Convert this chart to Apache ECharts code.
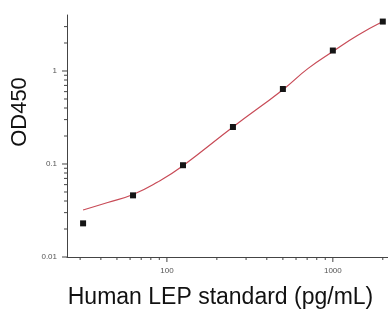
<!DOCTYPE html>
<html>
<head>
<meta charset="utf-8">
<script src="https://cdn.jsdelivr.net/npm/echarts@6/dist/echarts.min.js"></script>
<style>
  html, body { margin: 0; padding: 0; background: #fff; }
  #chart { width: 388px; height: 314px; }
</style>
</head>
<body>
<div id="chart"></div>
<script>
// standard concentrations (pg/mL) and measured OD450
const concentrations = [31.25, 62.5, 125, 250, 500, 1000, 2000]
const od450 = [0.023, 0.046, 0.097, 0.25, 0.64, 1.66, 3.4]

// fitted curve
const fitConc = [31.25, 44, 62.5, 88, 125, 250, 500, 707, 1000, 1414, 2000]
const fitOd = [0.032, 0.0385, 0.047, 0.064, 0.096, 0.25, 0.63, 1.06, 1.62, 2.42, 3.4]

// tick positions
const xMajorTicks = [100, 1000]
const xMinorTicks = [30, 40, 50, 60, 70, 80, 90, 200, 300, 400, 500, 600, 700, 800, 900, 2000]
const yMajorTicks = [0.01, 0.1, 1]
const yMinorTicks = [0.02, 0.03, 0.04, 0.05, 0.06, 0.07, 0.08, 0.09,
  0.2, 0.3, 0.4, 0.5, 0.6, 0.7, 0.8, 0.9, 2, 3]

const X_MIN = 25
const X_MAX = 2150
const Y_MIN = 0.01
const Y_MAX = 4

const chart = echarts.init(document.getElementById('chart'), null, { renderer: 'canvas' })

const isPow10 = v => Math.abs(Math.log10(v) - Math.round(Math.log10(v))) < 1e-6
const fmt = v => isPow10(v) ? String(+Math.pow(10, Math.round(Math.log10(v))).toPrecision(3)) : ''

const pairs = (xs, ys) => xs.map((x, i) => [x, ys[i]])

const tickStyle = { stroke: '#444', lineWidth: 1 }

const xTickData = xMajorTicks.map(v => [v, Y_MIN, 5])
  .concat(xMinorTicks.map(v => [v, Y_MIN, 3]))
const yTickData = yMajorTicks.map(v => [X_MIN, v, 5])
  .concat(yMinorTicks.map(v => [X_MIN, v, 3]))

const option = {
  animation: false,
  grid: { left: 67, right: 0, top: 15, bottom: 55 },
  xAxis: {
    type: 'log',
    logBase: 10,
    min: X_MIN,
    max: X_MAX,
    name: 'Human LEP standard (pg/mL)',
    nameLocation: 'middle',
    nameGap: 29,
    nameTextStyle: {
      fontFamily: 'Liberation Sans',
      fontSize: 23,
      color: '#111',
      padding: [0, 14, 0, 0]
    },
    axisLine: { lineStyle: { color: '#444', width: 1 } },
    axisTick: { show: false },
    splitLine: { show: false },
    axisLabel: {
      showMinLabel: false,
      showMaxLabel: false,
      formatter: fmt,
      fontFamily: 'Liberation Sans',
      fontSize: 8,
      color: '#555',
      margin: 10
    }
  },
  yAxis: {
    type: 'log',
    logBase: 10,
    min: Y_MIN,
    max: Y_MAX,
    name: 'OD450',
    nameLocation: 'middle',
    nameGap: 32,
    nameTextStyle: {
      fontFamily: 'Liberation Sans',
      fontSize: 22,
      color: '#111',
      padding: [0, 0, 0, 48]
    },
    axisLine: { show: true, lineStyle: { color: '#444', width: 1 } },
    axisTick: { show: false },
    splitLine: { show: false },
    axisLabel: {
      showMaxLabel: false,
      formatter: fmt,
      fontFamily: 'Liberation Sans',
      fontSize: 8,
      color: '#555',
      margin: 10
    }
  },
  series: [
    {
      type: 'custom',
      silent: true,
      clip: false,
      data: xTickData,
      renderItem: (params, api) => {
        const p = api.coord([api.value(0), api.value(1)])
        return {
          type: 'line',
          shape: { x1: p[0], y1: p[1], x2: p[0], y2: p[1] + api.value(2) },
          style: tickStyle
        }
      }
    },
    {
      type: 'custom',
      silent: true,
      clip: false,
      data: yTickData,
      renderItem: (params, api) => {
        const p = api.coord([api.value(0), api.value(1)])
        return {
          type: 'line',
          shape: { x1: p[0], y1: p[1], x2: p[0] - api.value(2), y2: p[1] },
          style: tickStyle
        }
      }
    },
    {
      name: 'fit',
      type: 'line',
      smooth: true,
      showSymbol: false,
      silent: true,
      data: pairs(fitConc, fitOd),
      lineStyle: { color: '#c84b57', width: 1.2 }
    },
    {
      name: 'standard',
      type: 'scatter',
      symbol: 'rect',
      symbolSize: 6,
      z: 5,
      data: pairs(concentrations, od450),
      itemStyle: { color: '#151515', opacity: 1 }
    }
  ]
}

chart.setOption(option)
</script>
</body>
</html>
